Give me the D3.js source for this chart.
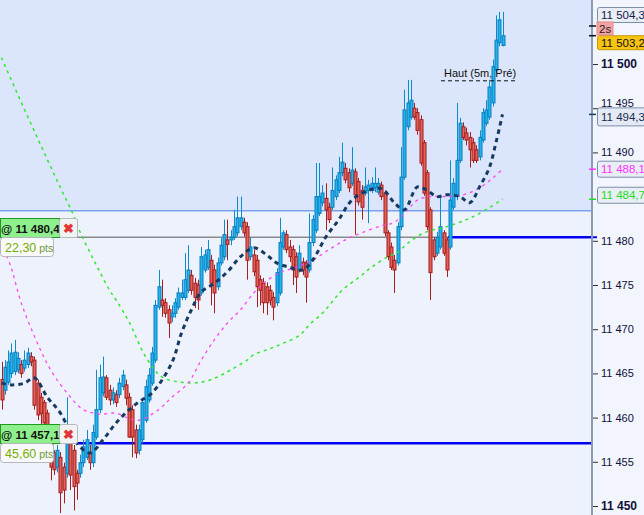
<!DOCTYPE html>
<html lang="fr">
<head>
<meta charset="UTF-8">
<title>Chandeliers 2s</title>
<script src="https://d3js.org/d3.v7.min.js"></script>
<style>
  body { margin: 0; background: #f2f5fd; }
  svg { display: block; font-family: "Liberation Sans", Arial, sans-serif; }
</style>
</head>
<body>
<div id="chart"></div>
<script>
// bougies [ouverture, haut, bas, clôture]
const candles = [
  [11464.3,11466.3,11460.9,11462.0],[11463.1,11466.5,11462.6,11465.7],[11464.0,11467.6,11463.7,11466.3],
  [11465.0,11468.4,11464.5,11467.3],[11465.2,11468.8,11464.8,11467.4],[11465.4,11467.4,11465.0,11466.7],
  [11466.0,11466.5,11464.5,11465.0],[11465.6,11467.6,11465.2,11466.5],[11466.0,11467.9,11465.6,11467.3],
  [11466.9,11467.4,11465.8,11466.3],[11466.5,11466.9,11460.9,11461.4],[11463.9,11464.3,11459.7,11460.3],
  [11462.3,11462.8,11458.6,11460.5],[11461.7,11462.0,11458.8,11459.4],[11460.5,11460.9,11455.5,11456.7],
  [11457.5,11457.8,11452.9,11454.4],[11456.0,11456.3,11453.5,11454.1],[11454.4,11456.9,11453.8,11456.3],
  [11455.5,11456.1,11449.2,11451.5],[11454.4,11454.9,11450.3,11451.8],[11453.7,11462.3,11453.2,11458.3],
  [11457.5,11457.8,11451.8,11453.5],[11456.3,11456.9,11449.5,11452.2],[11453.7,11454.1,11450.7,11452.6],
  [11453.7,11455.8,11453.2,11454.9],[11454.9,11457.5,11454.4,11456.7],[11455.5,11458.6,11455.2,11457.5],
  [11456.0,11456.9,11454.1,11454.9],[11454.9,11459.2,11454.4,11458.3],[11457.8,11465.4,11457.5,11460.9],
  [11460.9,11466.0,11460.5,11464.5],[11462.8,11466.9,11462.4,11464.6],[11464.5,11464.8,11462.0,11462.3],
  [11463.1,11463.7,11461.4,11462.0],[11462.0,11463.4,11461.5,11462.8],[11462.6,11463.1,11461.2,11461.7],
  [11462.6,11464.5,11462.2,11463.9],[11463.5,11465.4,11463.1,11464.8],[11463.7,11464.3,11461.4,11462.2],
  [11462.3,11462.8,11457.7,11457.8],[11460.9,11461.4,11455.5,11457.8],[11458.6,11459.2,11455.4,11456.0],
  [11456.3,11459.2,11455.8,11458.6],[11457.5,11462.2,11457.1,11461.7],[11459.7,11464.3,11459.4,11463.5],
  [11462.0,11465.6,11461.7,11464.8],[11463.9,11468.0,11463.6,11467.3],[11466.5,11473.3,11466.2,11472.7],
  [11472.5,11476.7,11472.2,11474.8],[11473.3,11475.6,11471.4,11472.7],[11473.0,11473.5,11471.3,11471.8],
  [11472.2,11472.7,11469.0,11470.7],[11471.4,11472.7,11470.8,11471.8],[11471.8,11473.5,11471.3,11473.0],
  [11472.5,11474.7,11472.2,11474.1],[11473.6,11475.6,11473.3,11474.1],[11473.6,11478.6,11473.3,11475.6],
  [11474.4,11479.5,11474.1,11476.7],[11476.1,11476.7,11473.9,11474.4],[11475.2,11475.8,11472.4,11473.6],
  [11475.0,11475.6,11472.2,11473.3],[11474.1,11479.3,11473.8,11478.2],[11476.7,11479.0,11476.4,11478.4],
  [11477.0,11480.1,11476.7,11479.0],[11477.8,11478.4,11472.7,11475.2],[11476.7,11477.3,11471.8,11474.1],
  [11474.8,11478.1,11474.4,11477.5],[11477.5,11480.3,11477.2,11479.5],[11478.2,11482.4,11477.8,11480.7],
  [11480.1,11482.4,11477.8,11479.6],[11480.1,11481.2,11479.5,11480.4],[11480.4,11483.5,11480.1,11481.6],
  [11480.9,11485.0,11480.5,11482.6],[11481.6,11485.0,11481.2,11482.6],[11482.1,11482.6,11480.5,11480.9],
  [11481.6,11482.1,11475.6,11477.8],[11478.2,11480.4,11477.8,11479.3],[11478.4,11479.0,11476.0,11476.5],
  [11477.8,11478.4,11472.5,11474.8],[11475.6,11476.1,11472.7,11474.4],[11475.2,11475.8,11471.8,11473.0],
  [11474.8,11475.3,11471.6,11473.0],[11474.4,11475.0,11472.7,11473.3],[11473.6,11474.2,11471.0,11472.5],
  [11473.0,11476.9,11472.6,11476.4],[11474.1,11482.6,11473.8,11479.8],[11479.3,11481.2,11479.0,11480.9],
  [11480.7,11481.2,11478.6,11479.0],[11479.3,11480.1,11477.6,11478.2],[11479.0,11479.5,11475.0,11476.7],
  [11478.2,11478.7,11474.1,11475.9],[11476.7,11479.5,11476.4,11478.6],[11477.6,11478.1,11476.1,11476.7],
  [11477.5,11477.8,11473.0,11475.9],[11476.7,11483.1,11476.4,11479.8],[11479.8,11482.9,11479.4,11482.4],
  [11481.2,11488.8,11480.9,11485.0],[11483.1,11488.8,11482.8,11485.0],[11484.3,11486.3,11483.9,11485.4],
  [11484.8,11486.5,11481.2,11483.5],[11483.8,11484.3,11482.0,11482.4],[11483.8,11488.3,11483.5,11485.7],
  [11485.0,11487.4,11484.6,11486.9],[11485.7,11489.5,11485.4,11487.7],[11487.7,11491.1,11487.3,11488.9],
  [11488.2,11488.8,11486.5,11486.9],[11487.7,11488.2,11485.5,11486.0],[11486.5,11490.6,11486.2,11488.0],
  [11487.8,11488.2,11480.7,11485.2],[11486.7,11487.1,11484.0,11484.4],[11485.7,11486.3,11482.4,11483.8],
  [11485.4,11488.3,11485.1,11486.1],[11485.7,11486.9,11482.0,11486.3],[11485.7,11487.2,11485.4,11486.5],
  [11486.0,11488.3,11485.5,11486.5],[11485.5,11487.1,11485.2,11486.5],[11486.3,11486.7,11484.6,11485.0],
  [11485.4,11485.7,11480.5,11480.9],[11480.9,11481.2,11477.8,11478.2],[11479.3,11479.8,11476.7,11477.0],
  [11477.8,11478.4,11474.1,11476.7],[11477.5,11482.1,11477.2,11481.6],[11481.6,11490.6,11481.2,11487.2],
  [11487.2,11497.1,11486.9,11494.8],[11492.9,11498.2,11492.5,11495.6],[11494.0,11498.2,11493.7,11495.9],
  [11495.0,11495.6,11493.7,11494.0],[11494.5,11495.0,11492.0,11492.5],[11493.7,11494.2,11488.5,11488.8],
  [11491.1,11491.4,11485.1,11485.4],[11487.7,11488.0,11481.2,11481.6],[11483.5,11483.8,11473.3,11476.4],
  [11480.1,11480.4,11477.8,11478.2],[11478.6,11481.0,11478.3,11480.4],[11479.3,11485.0,11479.0,11481.6],
  [11480.9,11481.2,11478.3,11478.6],[11480.1,11480.4,11475.9,11476.7],[11479.3,11489.1,11479.0,11484.6],
  [11483.8,11487.1,11483.5,11486.5],[11485.0,11495.6,11484.6,11489.1],[11489.1,11493.9,11488.8,11493.3],
  [11492.9,11493.4,11491.4,11491.7],[11492.2,11492.8,11490.8,11491.4],[11491.7,11492.3,11488.3,11490.3],
  [11491.1,11491.6,11488.8,11489.1],[11490.3,11490.8,11488.8,11489.1],[11489.5,11492.5,11489.1,11491.7],
  [11491.4,11495.0,11491.1,11494.5],[11493.3,11495.9,11493.0,11494.8],[11494.0,11498.2,11493.7,11497.4],
  [11495.6,11500.5,11495.2,11499.7],[11499.3,11505.5,11499.0,11502.7],[11502.4,11505.9,11502.0,11505.0],
  [11502.1,11505.9,11502.0,11503.2]
];

// moyennes mobiles [indice de bougie, prix]
const maShort = [
  [0,11463.9],[3,11463.7],[7,11463.9],[10,11464.5],[14,11462.3],[18,11460.5],[23,11457.1],[27,11456.0],
  [31,11457.5],[35,11459.4],[39,11460.9],[42,11461.8],[46,11462.8],[52,11466.2],[55,11469.6],[58,11472.2],
  [61,11474.2],[65,11475.2],[69,11476.5],[73,11478.2],[77,11479.2],[81,11478.4],[84,11477.5],[88,11477.0],
  [92,11476.7],[95,11477.8],[99,11480.4],[103,11482.4],[107,11484.6],[112,11485.7],[116,11485.9],[120,11484.3],
  [123,11483.5],[127,11486.1],[130,11485.7],[133,11485.0],[136,11485.2],[140,11485.0],[143,11484.3],[146,11486.1],
  [149,11488.3],[151,11491.1],[153,11494.3]
];
const maMid = [
  [0,11479.8],[3,11476.9],[6,11473.0],[11,11468.4],[15,11465.4],[20,11462.8],[25,11460.9],[30,11460.4],
  [35,11460.5],[39,11459.9],[42,11459.7],[48,11460.9],[52,11462.3],[57,11463.9],[61,11466.5],[65,11468.8],
  [69,11470.7],[73,11472.2],[77,11474.1],[80,11475.2],[85,11476.4],[90,11477.0],[95,11477.8],[100,11479.0],
  [105,11480.1],[110,11480.9],[116,11481.7],[120,11482.1],[124,11483.5],[127,11484.6],[131,11485.0],[136,11485.0],
  [141,11485.2],[146,11486.0],[150,11487.1],[153,11488.1]
];
const maLong = [
  [0,11500.7],[6,11495.7],[12,11490.8],[18,11486.0],[22,11482.9],[24,11481.0],[27,11478.7],[30,11476.5],
  [33,11474.4],[35,11473.3],[39,11470.8],[44,11466.9],[49,11464.6],[55,11464.0],[61,11464.0],[66,11464.6],
  [70,11465.4],[75,11466.5],[77,11467.1],[82,11467.8],[86,11468.4],[91,11469.3],[94,11470.5],[98,11471.8],
  [101,11473.1],[104,11474.4],[110,11476.1],[113,11477.0],[118,11478.2],[121,11478.7],[124,11479.7],[129,11480.9],
  [136,11481.6],[142,11482.4],[146,11483.1],[153,11484.7]
];

const yTicks = [11450, 11455, 11460, 11465, 11470, 11475, 11480, 11490, 11495, 11500];
const tagPrices = [11504.3, 11503.2, 11494.3, 11488.1, 11484.7];
const orderLevels = [11480.4, 11457.1];
const orderPts = ["22,30", "45,60"];
const zoneLevel = 11483.4;
const hautLevel = 11498.1;

const W = 644, H = 515, plotRight = 592;

const svg = d3.select("#chart").append("svg")
  .attr("width", W).attr("height", H);

const x = d3.scaleLinear().domain([0, candles.length - 1]).range([1.5, 502.5]);
const y = d3.scaleLinear().domain([11450, 11500]).range([506, 64]);

const fmtTick = v => { const s = String(v); return s.slice(0, 2) + " " + s.slice(2); };
const fmtPrice = v => { const s = v.toFixed(1).replace(".", ","); return s.slice(0, 2) + " " + s.slice(2); };

// fonds
svg.append("rect").attr("x", 0).attr("y", 0).attr("width", plotRight).attr("height", H).attr("fill", "#edf2fd");
svg.append("rect").attr("x", 0).attr("y", 0).attr("width", plotRight).attr("height", y(zoneLevel)).attr("fill", "#dbe5fc");
svg.append("rect").attr("x", plotRight).attr("y", 0).attr("width", W - plotRight).attr("height", H).attr("fill", "#f2f5fd");
svg.append("line").attr("x1", 0).attr("x2", plotRight).attr("y1", y(zoneLevel)).attr("y2", y(zoneLevel))
  .attr("stroke", "#78a2f0").attr("stroke-width", 1.5);

// niveaux d'ordres
svg.append("line").attr("x1", 77).attr("x2", 448).attr("y1", y(orderLevels[0])).attr("y2", y(orderLevels[0]))
  .attr("stroke", "#8a8a8a").attr("stroke-width", 1.5);
svg.append("line").attr("x1", 448).attr("x2", plotRight).attr("y1", y(orderLevels[0])).attr("y2", y(orderLevels[0]))
  .attr("stroke", "#0000f0").attr("stroke-width", 2.5);
svg.append("line").attr("x1", 77).attr("x2", plotRight).attr("y1", y(orderLevels[1])).attr("y2", y(orderLevels[1]))
  .attr("stroke", "#0000f0").attr("stroke-width", 2.5);

// bougies
const g = svg.append("g");
const up = d => d[3] >= d[0];
g.selectAll(".wick").data(candles).enter().append("line")
  .attr("x1", (d, i) => Math.round(x(i)) + 0.5).attr("x2", (d, i) => Math.round(x(i)) + 0.5)
  .attr("y1", d => y(d[1])).attr("y2", d => y(d[2]))
  .attr("stroke", d => up(d) ? "#0a8ccc" : "#a81e1e").attr("stroke-width", 1);
g.selectAll(".body").data(candles).enter().append("rect")
  .attr("x", (d, i) => Math.round(x(i)) - 1)
  .attr("y", d => y(Math.max(d[0], d[3])))
  .attr("width", 3)
  .attr("height", d => Math.max(1, Math.abs(y(d[0]) - y(d[3]))))
  .attr("fill", d => up(d) ? "#22b4ea" : "#e2625a")
  .attr("stroke", d => up(d) ? "#0a7dbf" : "#a31b1b").attr("stroke-width", 1);

// moyennes mobiles
const line = d3.line().x(d => x(d[0])).y(d => y(d[1])).curve(d3.curveCatmullRom.alpha(0.5));
svg.append("path").attr("d", line(maLong)).attr("fill", "none")
  .attr("stroke", "#2ee82e").attr("stroke-width", 1.5).attr("stroke-dasharray", "3,4");
svg.append("path").attr("d", line(maMid)).attr("fill", "none")
  .attr("stroke", "#ff44f0").attr("stroke-width", 1.3).attr("stroke-dasharray", "3,4");
svg.append("path").attr("d", line(maShort)).attr("fill", "none")
  .attr("stroke", "#163a60").attr("stroke-width", 3).attr("stroke-dasharray", "4.5,4");

// Haut (5m, Pré)
svg.append("line").attr("x1", 441).attr("x2", 517).attr("y1", y(hautLevel)).attr("y2", y(hautLevel))
  .attr("stroke", "#111").attr("stroke-width", 1).attr("stroke-dasharray", "4,3");
svg.append("text").attr("x", 444).attr("y", y(hautLevel) - 4)
  .attr("font-size", 11).attr("fill", "#111").text("Haut (5m, Pré)");

// axe des prix
svg.append("line").attr("x1", plotRight).attr("x2", plotRight).attr("y1", 0).attr("y2", H)
  .attr("stroke", "#8a9bb5").attr("stroke-width", 2);
const axis = d3.axisRight(y).tickValues(yTicks).tickSize(5).tickPadding(3).tickFormat(fmtTick);
const ax = svg.append("g").attr("transform", `translate(${plotRight + 1},0)`).call(axis);
ax.select(".domain").remove();
ax.selectAll(".tick line").attr("stroke", "#333");
ax.selectAll(".tick text")
  .attr("fill", "#10103a")
  .attr("font-family", "'Liberation Sans', Arial, sans-serif")
  .attr("font-weight", d => d % 50 === 0 ? "bold" : "normal")
  .attr("font-size", d => d % 50 === 0 ? 12 : 11)
  .attr("dy", d => d === 11495 ? "-0.15em" : "0.32em");

// étiquettes de prix
const tagShift = [-11, 7, 2.5, 0, -4];
const tagFill = ["#e8edf6", "#f7c414", "#e4eaf5", "#e8edf6", "#e8edf6"];
const tagText = ["#1a1a44", "#111", "#1a2a50", "#ff30ff", "#22dd22"];
const tagTick = ["#111", "#111", "#163a60", "#ff30ff", "#22dd22"];
const tagH = [15, 14, 18, 16, 16];
tagPrices.forEach((p, i) => {
  const cy = y(p) + tagShift[i];
  svg.append("line").attr("x1", plotRight - 3).attr("x2", plotRight + 4).attr("y1", y(p)).attr("y2", y(p))
    .attr("stroke", tagTick[i]).attr("stroke-width", 1.5);
  svg.append("rect").attr("x", 597.5).attr("y", cy - tagH[i] / 2).attr("width", 50).attr("height", tagH[i])
    .attr("rx", 2).attr("fill", tagFill[i]).attr("stroke", i === 1 ? "#c89a00" : "#7d8ea8");
  svg.append("text").attr("x", 601).attr("y", cy + 4).attr("font-size", 11.5)
    .attr("fill", tagText[i]).text(fmtPrice(p));
});
// 2s
svg.append("rect").attr("x", 597).attr("y", 22).attr("width", 16).attr("height", 13)
  .attr("fill", "#f3a3a3").attr("stroke", "#e48a8a");
svg.append("text").attr("x", 599).attr("y", 32.5).attr("font-size", 11.5).attr("fill", "#222").text("2s");
svg.append("line").attr("x1", plotRight + 1).attr("x2", plotRight + 5).attr("y1", y(orderLevels[0])).attr("y2", y(orderLevels[0]))
  .attr("stroke", "#0000f0").attr("stroke-width", 2);

// étiquettes d'ordres
orderLevels.forEach((p, i) => {
  const yl = Math.round(y(p)) + 0.5;
  svg.append("rect").attr("x", 0.5).attr("y", yl - 19).attr("width", 59).attr("height", 19)
    .attr("fill", "#8ef08c").attr("stroke", "#1e9a1e");
  svg.append("text").attr("x", 1).attr("y", yl - 5).attr("font-size", 11.5).attr("font-weight", "bold")
    .attr("fill", "#111").text("@ " + fmtPrice(p));
  svg.append("rect").attr("x", 59.5).attr("y", yl - 19).attr("width", 18).attr("height", 19)
    .attr("rx", 2).attr("fill", "#f1f2f4").attr("stroke", "#b5b8bd");
  svg.append("text").attr("x", 68.5).attr("y", yl - 5).attr("text-anchor", "middle")
    .attr("font-size", 13).attr("font-weight", "bold").attr("fill", "#e03636").text("✖");
  svg.append("rect").attr("x", 0.5).attr("y", yl).attr("width", 53).attr("height", 19)
    .attr("rx", 3).attr("fill", "#f7f9fc").attr("stroke", "#b3b6bb");
  const t = svg.append("text").attr("x", 5).attr("y", yl + 14).attr("font-size", 12.5);
  t.append("tspan").attr("fill", "#78ad00").text(orderPts[i]);
  t.append("tspan").attr("fill", "#6f9a3a").attr("font-size", 10.5).text(" pts");
});
</script>
</body>
</html>
